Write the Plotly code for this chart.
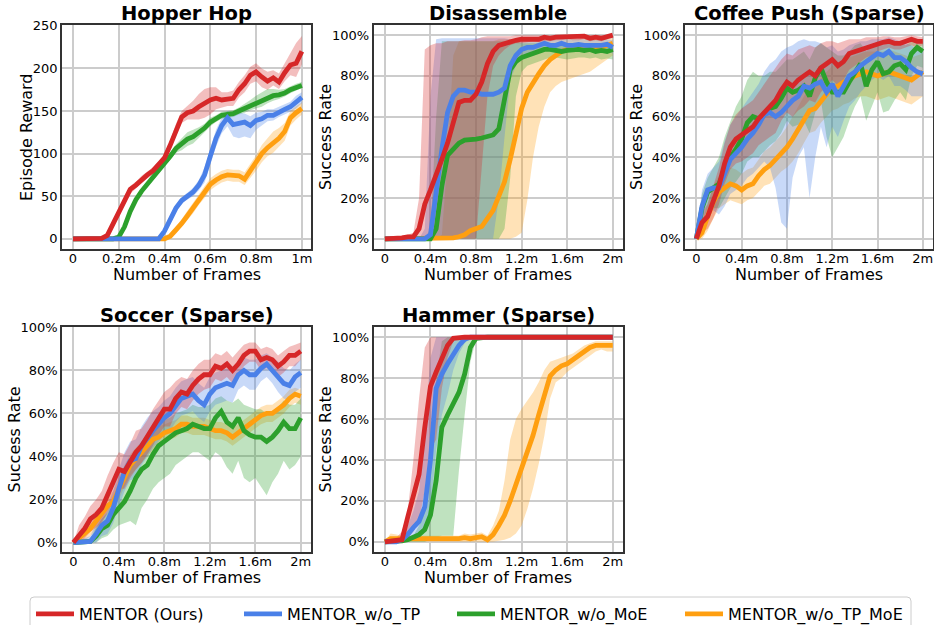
import plotly.graph_objects as go

# ---------------- data ----------------
X1M = [0.0, 0.025, 0.05, 0.075, 0.1, 0.125, 0.15, 0.175, 0.2, 0.225, 0.25, 0.275, 0.3, 0.325,
       0.35, 0.375, 0.4, 0.425, 0.45, 0.475, 0.5, 0.525, 0.55, 0.575, 0.6, 0.625, 0.65, 0.675,
       0.7, 0.725, 0.75, 0.775, 0.8, 0.825, 0.85, 0.875, 0.9, 0.925, 0.95, 0.975, 1.0]
X2M = [0.0, 0.05, 0.1, 0.15, 0.2, 0.25, 0.3, 0.35, 0.4, 0.45, 0.5, 0.55, 0.6, 0.65, 0.7, 0.75,
       0.8, 0.85, 0.9, 0.95, 1.0, 1.05, 1.1, 1.15, 1.2, 1.25, 1.3, 1.35, 1.4, 1.45, 1.5, 1.55,
       1.6, 1.65, 1.7, 1.75, 1.8, 1.85, 1.9, 1.95, 2.0]

LABELS = ["MENTOR (Ours)", "MENTOR_w/o_TP", "MENTOR_w/o_MoE", "MENTOR_w/o_TP_MoE"]
TITLES = ["Hopper Hop", "Disassemble", "Coffee Push (Sparse)", "Soccer (Sparse)", "Hammer (Sparse)"]
X1M_TICKS = [0, 0.2, 0.4, 0.6, 0.8, 1.0]
X1M_TEXT = ["0", "0.2m", "0.4m", "0.6m", "0.8m", "1m"]
X2M_TICKS = [0, 0.4, 0.8, 1.2, 1.6, 2.0]
X2M_TEXT = ["0", "0.4m", "0.8m", "1.2m", "1.6m", "2m"]
REWARD_TICKS = [0, 50, 100, 150, 200, 250]
RATE_TICKS = [0, 20, 40, 60, 80, 100]
RATE_TEXT = ["0%", "20%", "40%", "60%", "80%", "100%"]

# Hopper Hop (episode reward)
HOP_RED_M = [0,0,0,0,0,0.5,4,18,30,45,58,63,70,75,80,87,95,110,128,143,148,150,155,159,163,165,163,164,165,175,182,192,196,190,185,189,184,195,204,206,220]
HOP_RED_LO = [0,0,0,0,0,0,1,13,26,40,53,59,66,71,76,83,90,104,121,136,140,140,140,142,146,152,154,156,156,166,172,182,185,178,175,180,176,185,192,190,205]
HOP_RED_HI = [0,0,0,0,0,1.5,8,23,35,50,62,67,74,79,84,91,100,116,135,150,156,162,170,176,178,178,172,172,174,184,192,202,206,200,196,198,194,206,218,230,238]
HOP_BLU_M = [0,0,0,0,0,0,0,0,0,0,0,0,0,0,0,0,9,24,36,45,50,55,63,75,97,118,133,142,134,136,137,133,139,141,145,145,149,152,155,160,166]
HOP_BLU_LO = [0,0,0,0,0,0,0,0,0,0,0,0,0,0,0,0,6,20,32,41,46,50,57,66,88,108,124,132,120,118,120,118,128,133,138,139,143,146,149,153,159]
HOP_BLU_HI = [0,0,0,0,0,0,0,0,0,0,0,0,0,0,0,0,12,28,40,49,54,60,69,84,106,128,142,150,146,148,147,144,148,149,152,152,155,158,161,168,172]
HOP_GRN_M = [0,0,0,0,0,0,0,0,2,14,32,46,56,64,71,80,89,97,106,111,117,120,125,130,137,141,145,146,147,150,153,157,160,162,166,168,169,171,175,178,180]
HOP_GRN_LO = [0,0,0,0,0,0,0,0,0,11,29,43,53,61,68,77,85,93,101,104,109,112,119,125,132,137,141,142,143,146,148,151,153,155,159,162,164,167,171,174,177]
HOP_GRN_HI = [0,0,0,0,0,0,0,0,4,17,35,49,59,67,74,83,93,101,111,118,125,128,131,135,142,145,149,150,151,154,158,163,168,172,176,176,175,176,179,182,184]
HOP_ORG_M = [0,0,0,0,0,0,0,0,0,0,0,0,0,0,0,0,0,3,10,18,27,36,46,55,64,69,73,75,74,74,70,80,89,100,107,113,118,126,142,148,153]
HOP_ORG_LO = [0,0,0,0,0,0,0,0,0,0,0,0,0,0,0,0,0,1,6,13,22,30,40,48,57,62,66,68,67,67,63,72,80,90,97,101,108,115,133,140,146]
HOP_ORG_HI = [0,0,0,0,0,0,0,0,0,0,0,0,0,0,0,0,0,6,14,23,33,42,52,62,71,76,80,82,81,81,78,88,98,110,118,126,130,136,150,156,160]

# Disassemble (success rate, %)
DIS_RED_M = [0,0,0,0.5,1,1,5,17,24,31,39,47,58,67,68,68,71,77,86,92,95,96,97,97.5,98,98,98.5,98,99,98.5,99,99,99.5,99,99,99.5,98.5,99,98.5,99.5,100]
DIS_RED_LO = [0,0,0,0,0,0,0,0,0,0,0,0,0,0,0,0,0,35,70,85,90,93,95,96,96,96.5,97,96.5,97,97,97.5,97.5,98,97.5,97.5,98,97,97.5,97,98,98.5]
DIS_RED_HI = [0,0.5,0.5,1.5,2,3,20,93,95,96,96,97,97,97,97.5,97.5,98,99,99.5,99.5,99.5,99.5,99.5,100,100,100,100,100,100,100,100,100,100,100,100,100,100,100,100,100,100]
DIS_BLU_M = [0,0,0,0,0,0,0,0,2,24,44,62,70,73,73,72,72,71,71,71,72,74,85,90,93,94,94,95,96,95,95,96,95,95,95.5,95,95,94.5,95,95.5,94]
DIS_BLU_LO = [0,0,0,0,0,0,0,0,0,0,0,0,0,0,0,0,0,0,0,0,20,50,78,85,89,91,91,92,93,92,92,93,92,92,92.5,92,92,91.5,92,92.5,91]
DIS_BLU_HI = [0,0,0,0,0,0,0,5,70,98,98.5,98.5,98.5,98.5,98.5,98.5,98.5,98.5,98.5,98.5,98.5,98.5,98,97.5,97.5,97.5,97.5,98,98.5,98,98,98.5,98,98,98,98,98,97.5,98,98,97.5]
DIS_GRN_M = [0,0,0,0,0,0,0,0,0,5,26,41,44,47,48.5,48.5,49,49.5,50,51,54,68,83,87,89,90,91,92,93,93,92.5,92,92.5,93,93,92.5,93,92,92.5,92,93]
DIS_GRN_LO = [0,0,0,0,0,0,0,0,0,0,0,0,0,0,0,0,0,0,0,0,0,5,30,70,82,85,86,87,88,89,89,88.5,88,88.5,89,89,88.5,89,88,88.5,88]
DIS_GRN_HI = [0,0,0,0,0,0,0,0,5,60,97,97,97,97,97,97,97,97,97,97,97,97,97,97,96,96,96,96,96,96,96,95.5,95.5,96,96,95.5,96,95.5,95.5,95.5,96]
DIS_ORG_M = [0,0,0,0,0,0,0,0,0,0,0,0.3,0.5,1,2,4,5,6,10,14,21,28,39,52,64,72,77,81,85,88,90,92,93,93,93,93.5,93,93.5,94,95,96]
DIS_ORG_LO = [0,0,0,0,0,0,0,0,0,0,0,0,0,0,0,0,0,0,0,0,0,0,0,1,3,19,40,55,65,72,75,77,78,79,80,81,82,84,86,88,90]
DIS_ORG_HI = [0,0,0,0,0,0,0,0,0,0,2,40,90,97,97,97,97,97,97,97,98,98,98,98,98,98,98,98,98,98,98,98,98,98,98,98,98,98,98,98,98.5]

# Coffee Push (Sparse)
CP_RED_M = [0,8,11,18,26,37,45,49,51,53,55,59,62,65,68,73,77,75,78,80,82,80,84,86,88,85,87,91,92,93,94,95,96,96.5,97,96,96,97,98,97,97]
CP_RED_LO = [0,3,5,10,17,27,34,37,38,40,42,46,48,50,52,58,62,60,63,65,68,67,72,75,78,75,78,83,85,87,89,90,92,93,94,93,93,94,95,94,95]
CP_RED_HI = [0,13,17,26,35,47,56,61,64,66,68,72,76,80,84,88,91,90,93,94,95,94,96,97,97,96,97,98,98,98,99,99,99,99.5,99.5,99,99,99.5,100,99.5,99]
CP_BLU_M = [0,16,24,25,25,32,39,42,45,49,52,56,61,62,60,62,65,68,70,75,74,76,77,72,76,70,75,80,82,85,87,89,91,90,92,89,89,87,84,82,81]
CP_BLU_LO = [0,8,15,14,12,16,22,24,26,30,32,35,38,35,25,8,5,30,40,45,20,40,55,45,55,50,58,65,68,72,75,78,80,78,80,75,75,73,70,70,70]
CP_BLU_HI = [0,24,32,35,38,48,56,60,64,68,72,76,82,86,88,92,94,95,97,98,97,97,96,94,95,92,93,95,96,97,97,98,98,98,99,98,97,96,95,93,92]
CP_GRN_M = [0,15,23,25,27,34,40,44,49,57,60,59,61,64,65,69,74,72,73,75,70,79,84,77,72,72,72,77,82,86,75,83,87,81,82,85,86,83,91,94,92]
CP_GRN_LO = [0,8,14,15,15,20,25,28,32,38,40,40,43,46,48,52,58,55,56,58,52,62,68,50,40,45,50,58,65,70,58,65,72,62,63,68,72,68,80,85,84]
CP_GRN_HI = [0,22,30,35,40,50,58,65,70,78,82,80,80,82,82,85,88,88,90,92,88,94,96,94,92,90,90,92,95,96,92,95,97,95,96,96,96,95,97,98,97]
CP_ORG_M = [0,3,11,18,23,25,27,26,24,26,27,31,34,36,39,42,45,49,54,59,63,64,68,71,74,75,77,78,80,81,82,81,80,81,82,81,80,79,78,80,82]
CP_ORG_LO = [0,0,4,10,15,17,19,18,17,19,20,23,26,27,30,33,35,38,42,47,52,53,57,60,63,64,66,67,69,70,70,69,68,69,70,69,68,67,66,68,70]
CP_ORG_HI = [0,7,18,26,31,33,35,34,32,34,35,39,43,45,48,51,55,60,65,70,74,75,79,82,85,86,88,89,90,91,92,92,92,92,93,92,91,90,89,90,91]

# Soccer (Sparse)
SC_RED_M = [0,3,6.5,11,13,16,22,28,34,33,38,42,45,49,53,58,62,62,67,70,69,73,76,78,78,82,81,83,80,83,87,89,89,85,86,85,82,84,87,87,89]
SC_RED_LO = [0,0,2,5,7,9,14,19,25,25,30,34,37,41,45,50,54,54,60,63,62,66,69,71,72,76,75,77,74,77,82,84,84,80,81,80,77,79,82,82,85]
SC_RED_HI = [0,8,12,17,20,24,31,37,42,41,46,52,53,57,62,66,70,72,75,77,76,80,83,85,85,88,87,89,86,89,92,93,93,90,91,90,87,89,91,92,93]
SC_BLU_M = [0,0,0,0.5,4,8,10,16,25,33,38,39,45,49,52,55,58,60,64,67,68,69,66,64,69,72,73,74,73,78,80,78,78,81,83,80,77,74,73,77,79]
SC_BLU_LO = [0,0,0,0,0,3,4,9,16,24,29,30,36,40,44,47,50,52,56,59,60,61,58,56,61,64,65,66,65,71,73,71,71,75,77,74,70,67,66,70,72]
SC_BLU_HI = [0,1,2,3,9,14,17,24,34,42,47,48,54,58,61,63,66,68,72,75,76,77,74,72,77,79,80,81,80,84,86,85,85,87,88,86,84,81,80,83,85]
SC_GRN_M = [0,0,0,0.5,3,6.5,8,13,16,19,24,30,34,36,41,45,47,49,51,52,53,55,54,53,53,58,61,56,54,58,52,50,49,49,47,49,52,56,53,53,58]
SC_GRN_LO = [0,0,0,0,0,2,3,6,8,9,10,8,16,20,25,28,30,32,36,38,40,42,42,40,38,42,40,35,32,38,30,28,30,26,22,28,32,38,34,36,40]
SC_GRN_HI = [0,1,1,2,7,11,14,20,24,29,36,42,46,48,52,55,57,58,60,61,62,64,63,63,64,67,68,66,65,67,64,63,62,62,60,61,63,66,64,64,67]
SC_ORG_M = [0,2,4,6.5,10,14,17,19,25,31,36,39,42,45,48,49,51,52,53,55,55,54,54,54,53,52,52,51,49,51,53,55,57,59,60,60,62,64,67,69,68]
SC_ORG_LO = [0,0,1,3,6,10,13,15,20,26,31,34,37,40,43,45,47,48,49,51,51,50,50,50,49,48,48,47,45,47,49,51,53,55,56,56,58,60,63,65,64]
SC_ORG_HI = [0,5,8,10,14,18,21,24,30,36,41,44,47,50,53,54,55,56,57,59,59,58,58,58,57,56,56,55,53,55,57,59,61,63,64,64,66,68,71,72,71]

# Hammer (Sparse)
HM_RED_M = [0,0.5,0.5,1,12,23,33,56,76,83,89,96,99.5,100,100,100,100,100,100,100,100,100,100,100,100,100,100,100,100,100,100,100,100,100,100,100,100,100,100,100,100]
HM_RED_LO = [0,0,0,0,2,5,10,25,45,50,75,90,98,100,100,100,100,100,100,100,100,100,100,100,100,100,100,100,100,100,100,100,100,100,100,100,100,100,100,100,100]
HM_RED_HI = [0,1.5,2,5,15,40,70,95,100,100,100,100,100,100,100,100,100,100,100,100,100,100,100,100,100,100,100,100,100,100,100,100,100,100,100,100,100,100,100,100,100]
HM_BLU_M = [0,0,0,1,3.5,7,10,17,40,75,82,87,92,96,99,100,100,100,100,100,100,100,100,100,100,100,100,100,100,100,100,100,100,100,100,100,100,100,100,100,100]
HM_BLU_LO = [0,0,0,0,0.5,2,4,6,15,45,62,72,84,92,97,99.5,100,100,100,100,100,100,100,100,100,100,100,100,100,100,100,100,100,100,100,100,100,100,100,100,100]
HM_BLU_HI = [0,0,0,3,8,15,25,55,90,100,100,100,100,100,100,100,100,100,100,100,100,100,100,100,100,100,100,100,100,100,100,100,100,100,100,100,100,100,100,100,100]
HM_GRN_M = [0,0,0,0.5,1,2,3.5,6,13,30,56,62,67,73,82,95,99.5,100,100,100,100,100,100,100,100,100,100,100,100,100,100,100,100,100,100,100,100,100,100,100,100]
HM_GRN_LO = [0,0,0,0,0,0,0,0,1,2,3,3,3,35,62,88,99,100,100,100,100,100,100,100,100,100,100,100,100,100,100,100,100,100,100,100,100,100,100,100,100]
HM_GRN_HI = [0,1,1,1,1,3,8,15,40,80,98,100,100,100,100,100,100,100,100,100,100,100,100,100,100,100,100,100,100,100,100,100,100,100,100,100,100,100,100,100,100]
HM_ORG_M = [0,1.5,1.5,1.5,1.5,1.5,1,1,1,1.5,1,1,1.5,1.5,2,1.5,2,2.5,1,3.5,8,13,20,28,35,44,52,62,72,81,84,86,87,89,91,93,95,96,96,96,96]
HM_ORG_LO = [0,0,0,0,0,0,0,0,0,0,0,0,0,0,0,0,0,0,0,0,0.5,1,2,4,8,16,26,38,52,70,78,80,83,85,87,89,91,93,94,93,93]
HM_ORG_HI = [0,4,3.5,3,3,3,3,3,3,3,3,3,3,3,4,3.5,4,4.5,3,8,15,30,50,60,65,69,73,78,84,88,89,90,91,92,94,96,97,98,98,98,98]

# ---------------- styling ----------------
W, H = 934, 625
FONT = "DejaVu Sans"
COLORS = ["#d62728", "#4a80e8", "#2ca02c", "#ff9f10"]
LEGEND_W = [155, 160, 175, 178]


def rgba(hexc, a):
    hexc = hexc.lstrip("#")
    r, g, b = int(hexc[0:2], 16), int(hexc[2:4], 16), int(hexc[4:6], 16)
    return f"rgba({r},{g},{b},{a})"


def fx(p):
    return p / W


def fy(p):
    return 1 - p / H


PANELS = [
    dict(x=X1M, s=[(HOP_RED_M, HOP_RED_LO, HOP_RED_HI), (HOP_BLU_M, HOP_BLU_LO, HOP_BLU_HI),
                   (HOP_GRN_M, HOP_GRN_LO, HOP_GRN_HI), (HOP_ORG_M, HOP_ORG_LO, HOP_ORG_HI)],
         box=(62, 311, 25, 249), xr=[-0.048, 1.04], yr=[-12, 251],
         xt=(X1M_TICKS, X1M_TEXT), yt=(REWARD_TICKS, [str(v) for v in REWARD_TICKS]),
         ylab="Episode Reward", ylx=26),
    dict(x=X2M, s=[(DIS_RED_M, DIS_RED_LO, DIS_RED_HI), (DIS_BLU_M, DIS_BLU_LO, DIS_BLU_HI),
                   (DIS_GRN_M, DIS_GRN_LO, DIS_GRN_HI), (DIS_ORG_M, DIS_ORG_LO, DIS_ORG_HI)],
         box=(373.5, 623, 25, 249), xr=[-0.1, 2.09], yr=[-5, 105],
         xt=(X2M_TICKS, X2M_TEXT), yt=(RATE_TICKS, RATE_TEXT), ylab="Success Rate", ylx=325),
    dict(x=X2M, s=[(CP_RED_M, CP_RED_LO, CP_RED_HI), (CP_BLU_M, CP_BLU_LO, CP_BLU_HI),
                   (CP_GRN_M, CP_GRN_LO, CP_GRN_HI), (CP_ORG_M, CP_ORG_LO, CP_ORG_HI)],
         box=(685, 933, 25, 249), xr=[-0.1, 2.09], yr=[-5, 105],
         xt=(X2M_TICKS, X2M_TEXT), yt=(RATE_TICKS, RATE_TEXT), ylab="Success Rate", ylx=636),
    dict(x=X2M, s=[(SC_RED_M, SC_RED_LO, SC_RED_HI), (SC_BLU_M, SC_BLU_LO, SC_BLU_HI),
                   (SC_GRN_M, SC_GRN_LO, SC_GRN_HI), (SC_ORG_M, SC_ORG_LO, SC_ORG_HI)],
         box=(62, 311, 327, 552), xr=[-0.1, 2.09], yr=[-4.4, 100.2],
         xt=(X2M_TICKS, X2M_TEXT), yt=(RATE_TICKS, RATE_TEXT), ylab="Success Rate", ylx=14),
    dict(x=X2M, s=[(HM_RED_M, HM_RED_LO, HM_RED_HI), (HM_BLU_M, HM_BLU_LO, HM_BLU_HI),
                   (HM_GRN_M, HM_GRN_LO, HM_GRN_HI), (HM_ORG_M, HM_ORG_LO, HM_ORG_HI)],
         box=(373.5, 623, 327, 552), xr=[-0.1, 2.09], yr=[-5, 105],
         xt=(X2M_TICKS, X2M_TEXT), yt=(RATE_TICKS, RATE_TEXT), ylab="Success Rate", ylx=325),
]

fig = go.Figure()
layout = {}
annotations = []
draw_order = [3, 2, 1, 0]

for k, p in enumerate(PANELS):
    n = "" if k == 0 else str(k + 1)
    xa, ya = "x" + n, "y" + n
    xs = p["x"]
    for j in draw_order:
        m, lo, hi = p["s"][j]
        fig.add_trace(go.Scatter(
            x=list(xs) + list(xs)[::-1], y=list(hi) + list(lo)[::-1],
            fill="toself", fillcolor=rgba(COLORS[j], 0.3), line=dict(width=0),
            mode="lines", hoverinfo="skip", showlegend=False, xaxis=xa, yaxis=ya))
    for j in draw_order:
        m, lo, hi = p["s"][j]
        fig.add_trace(go.Scatter(
            x=xs, y=m, mode="lines", line=dict(color=COLORS[j], width=4.8),
            name=LABELS[j], showlegend=(k == 0), legendrank=j + 1,
            legendwidth=LEGEND_W[j], xaxis=xa, yaxis=ya))

    x0, x1, y0, y1 = p["box"]
    common = dict(showgrid=True, gridcolor="#cccccc", gridwidth=1.5, showline=True,
                  linecolor="#333333", linewidth=1.5, mirror=True, ticks="", automargin=False,
                  zeroline=False, tickfont=dict(family=FONT, size=13, color="black"))
    layout["xaxis" + n] = dict(
        domain=[fx(x0), fx(x1)], range=p["xr"], anchor=ya, ticklabelstandoff=-3,
        tickmode="array", tickvals=p["xt"][0], ticktext=p["xt"][1], **common)
    layout["yaxis" + n] = dict(
        domain=[fy(y1), fy(y0)], range=p["yr"], anchor=xa,
        tickmode="array", tickvals=p["yt"][0], ticktext=p["yt"][1], **common)
    # subplot title
    annotations.append(dict(
        text="<b>" + TITLES[k] + "</b>", x=fx((x0 + x1) / 2), y=fy(y0 - 12),
        xref="paper", yref="paper", xanchor="center", yanchor="middle", showarrow=False,
        font=dict(family=FONT, size=19.5, color="black")))
    # x axis title
    annotations.append(dict(
        text="Number of Frames", x=fx((x0 + x1) / 2), y=fy(y1 + 25),
        xref="paper", yref="paper", xanchor="center", yanchor="middle", showarrow=False,
        font=dict(family=FONT, size=16, color="black")))
    # y axis title
    annotations.append(dict(
        text=p["ylab"], x=fx(p["ylx"]), y=fy((y0 + y1) / 2), textangle=-90,
        xref="paper", yref="paper", xanchor="center", yanchor="middle", showarrow=False,
        font=dict(family=FONT, size=16, color="black")))

# rounded legend frame (matplotlib-style), drawn as a paper shape
L, R, T, B, RAD = 30, 911, 597, 640, 4
frame_path = (f"M {fx(L + RAD)},{fy(T)} L {fx(R - RAD)},{fy(T)} Q {fx(R)},{fy(T)} {fx(R)},{fy(T + RAD)} "
              f"L {fx(R)},{fy(B)} L {fx(L)},{fy(B)} L {fx(L)},{fy(T + RAD)} Q {fx(L)},{fy(T)} {fx(L + RAD)},{fy(T)} Z")

fig.update_layout(
    width=W, height=H, margin=dict(l=0, r=0, t=0, b=0, autoexpand=False),
    paper_bgcolor="white", plot_bgcolor="white",
    font=dict(family=FONT, color="black"),
    annotations=annotations,
    shapes=[dict(type="path", path=frame_path, xref="paper", yref="paper",
                 line=dict(color="#cccccc", width=1), fillcolor="rgba(0,0,0,0)")],
    legend=dict(orientation="h", x=fx(31), y=fy(597), xanchor="left", yanchor="top",
                bgcolor="rgba(0,0,0,0)", borderwidth=0,
                font=dict(family=FONT, size=16, color="black"), itemwidth=38,
                traceorder="normal"),
    **layout)

fig.write_html("out.html")
